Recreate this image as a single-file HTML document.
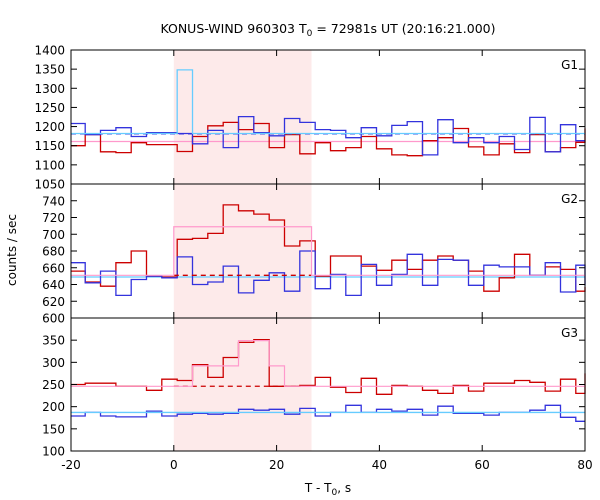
<!DOCTYPE html>
<html><head><meta charset="utf-8">
<style>
html,body{margin:0;padding:0;background:#fff;}
svg{display:block;font-family:"DejaVu Sans","Liberation Sans",sans-serif;}
</style></head>
<body>
<svg id="chart" width="600" height="500" viewBox="0 0 600 500">
<text x="328" y="33" font-size="12.5" text-anchor="middle">KONUS-WIND 960303 T<tspan font-size="9" dy="3">0</tspan><tspan dy="-3"> = 72981s UT (20:16:21.000)</tspan></text>
<text x="16" y="250" font-size="12" text-anchor="middle" transform="rotate(-90 16 250)">counts / sec</text>
<text x="328" y="492" font-size="12" text-anchor="middle">T - T<tspan font-size="9" dy="3">0</tspan><tspan dy="-3">, s</tspan></text>
<g id="plots"></g>
</svg>
<script>
// Shared time axis
const binStart = -17.24;
const binWidth = 2.983;
const xTickLabels = [-20, 0, 20, 40, 60, 80];
const shadeRange = [0, 26.8];

// G1
const g1Red = [1150,1179,1134,1132,1158,1153,1153,1135,1174,1202,1211,1192,1208,1145,1179,1129,1158,1137,1145,1174,1142,1126,1124,1163,1171,1195,1147,1126,1155,1132,1179,1134,1145,1159,1195];
const g1Blue = [1208,1179,1190,1197,1174,1184,1184,1182,1155,1190,1145,1226,1184,1176,1221,1211,1192,1190,1171,1197,1176,1203,1213,1126,1218,1158,1171,1158,1174,1140,1224,1134,1205,1163,1163];
const g1CyanBase = 1182, g1CyanPeak = 1348, g1BlueMean = 1181, g1PinkMean = 1161;
const g1Ticks = [1050,1100,1150,1200,1250,1300,1350,1400];
// G2
const g2Red = [656,643,638,666,680,650,649,694,695,701,735,728,724,717,686,692,650,674,674,662,657,669,658,669,674,669,656,632,648,676,651,661,658,632,637];
const g2Blue = [666,642,656,627,646,650,648,673,640,643,662,630,645,654,632,680,635,652,627,664,639,652,676,639,670,669,639,663,661,661,651,666,631,663,639];
const g2PinkBase = 651, g2PinkPeak = 709, g2RedMean = 651, g2CyanMean = 649;
const g2Ticks = [600,620,640,660,680,700,720,740];
// G3
const g3Red = [250,253,253,246,246,237,262,259,295,266,311,345,351,246,246,248,266,244,232,264,228,248,246,237,230,248,235,253,253,259,255,235,262,230,275];
const g3Blue = [179,187,179,177,177,190,179,183,185,183,185,194,192,194,183,196,179,187,203,187,194,190,194,181,201,185,185,181,187,187,192,203,176,167,167];
const g3Pink = [246,246,246,246,246,246,246,246,292,292,292,349,349,292,246,246,246,246,246,246,246,246,246,246,246,246,246,246,246,246,246,246,246,246,246];
const g3RedMean = 246, g3CyanMean = 187;
const g3Ticks = [100,150,200,250,300,350];

const NS = "http://www.w3.org/2000/svg";
const L = 71, R = 585, xMin = -20, xMax = 80;
const xs = t => L + (t - xMin) / (xMax - xMin) * (R - L);
const root = document.getElementById('plots');
function mk(tag, attrs, parent) {
  const e = document.createElementNS(NS, tag);
  for (const k in attrs) e.setAttribute(k, attrs[k]);
  (parent || root).appendChild(e);
  return e;
}
function edge(i) { return i === 0 ? xMin : Math.min(xMax, binStart + (i - 1) * binWidth); }
function stepPath(vals, ys) {
  let d = '';
  for (let i = 0; i < vals.length; i++) {
    const x0 = xs(edge(i)), x1 = xs(edge(i + 1)), y = ys(vals[i]);
    d += (i === 0 ? 'M' : 'L') + x0.toFixed(1) + ',' + y.toFixed(1) + 'L' + x1.toFixed(1) + ',' + y.toFixed(1);
  }
  return d;
}
function panel(name, top, bot, yMin, yMax, ticks, draw) {
  const ys = v => bot - (v - yMin) / (yMax - yMin) * (bot - top);
  const g = mk('g', {});
  
  
  const sh = mk('rect', {x: xs(shadeRange[0]), y: top, width: xs(shadeRange[1]) - xs(shadeRange[0]), height: bot - top, fill: '#fdeaea'}, g);
  
  
  draw(g, ys);
  const fr = mk('rect', {x: L, y: top, width: R - L, height: bot - top, fill: 'none', stroke: '#000', 'stroke-width': 1}, g);
  
  
  ticks.forEach(v => {
    const y = ys(v);
    mk('line', {x1: L, x2: L + 6, y1: y, y2: y, stroke: '#000'}, g);
    mk('line', {x1: R - 6, x2: R, y1: y, y2: y, stroke: '#000'}, g);
    const t = mk('text', {x: L - 6, y: y + 4.5, 'font-size': 12, 'text-anchor': 'end'}, g);
    t.textContent = v;
    
    
  });
  xTickLabels.forEach(v => {
    const x = xs(v);
    mk('line', {x1: x, x2: x, y1: top, y2: top + 6, stroke: '#000'}, g);
    mk('line', {x1: x, x2: x, y1: bot - 6, y2: bot, stroke: '#000'}, g);
  });
  const lb = mk('text', {x: R - 7, y: top + 19, 'font-size': 12, 'text-anchor': 'end'}, g);
  lb.textContent = name.toUpperCase();
  
  
  return ys;
}
function line(g, d, color, name, dash, w) {
  const p = mk('path', {d: d, fill: 'none', stroke: color, 'stroke-width': w || 1.3}, g);
  if (dash) p.setAttribute('stroke-dasharray', dash);
  
  
  return p;
}
function hline(ys, v, t0, t1) { return 'M' + xs(t0) + ',' + ys(v) + 'L' + xs(t1) + ',' + ys(v); }

panel('g1', 50, 184, 1050, 1400, g1Ticks, (g, ys) => {
  line(g, hline(ys, g1PinkMean, xMin, xMax), '#ff99cc', 'g1-pink-model', null, 1.2);
  line(g, stepPath(g1Red, ys), '#cc0000', 'g1-red-series');
  line(g, stepPath(g1Blue, ys), '#3333dd', 'g1-blue-series');
  line(g, hline(ys, g1BlueMean, xMin, xMax), '#3333dd', 'g1-blue-mean', '5,4');
  const c = 'M' + xs(xMin) + ',' + ys(g1CyanBase) + 'L' + xs(edge(7)) + ',' + ys(g1CyanBase) + 'L' + xs(edge(7)) + ',' + ys(g1CyanPeak) + 'L' + xs(edge(8)) + ',' + ys(g1CyanPeak) + 'L' + xs(edge(8)) + ',' + ys(g1CyanBase) + 'L' + xs(xMax) + ',' + ys(g1CyanBase);
  line(g, c, '#66ccff', 'g1-cyan-model');
});
panel('g2', 184, 318, 600, 760, g2Ticks, (g, ys) => {
  line(g, hline(ys, g2CyanMean, xMin, xMax), '#66ccff', 'g2-cyan-model');
  line(g, stepPath(g2Red, ys), '#cc0000', 'g2-red-series');
  line(g, stepPath(g2Blue, ys), '#3333dd', 'g2-blue-series');
  line(g, hline(ys, g2RedMean, 0, 26.8), '#cc0000', 'g2-red-mean', '5,4');
  const p = 'M' + xs(xMin) + ',' + ys(g2PinkBase) + 'L' + xs(0) + ',' + ys(g2PinkBase) + 'L' + xs(0) + ',' + ys(g2PinkPeak) + 'L' + xs(26.8) + ',' + ys(g2PinkPeak) + 'L' + xs(26.8) + ',' + ys(g2PinkBase) + 'L' + xs(xMax) + ',' + ys(g2PinkBase);
  line(g, p, '#ff99cc', 'g2-pink-model', null, 1.2);
});
panel('g3', 318, 451, 100, 400, g3Ticks, (g, ys) => {
  line(g, stepPath(g3Red, ys), '#cc0000', 'g3-red-series');
  line(g, hline(ys, g3RedMean, 0, 24), '#cc0000', 'g3-red-mean', '5,4');
  line(g, stepPath(g3Pink, ys), '#ff99cc', 'g3-pink-model', null, 1.2);
  line(g, stepPath(g3Blue, ys), '#3333dd', 'g3-blue-series');
  line(g, hline(ys, g3CyanMean, xMin, xMax), '#66ccff', 'g3-cyan-model');
});
// x tick labels under bottom panel
xTickLabels.forEach(v => {
  const t = mk('text', {x: xs(v), y: 469, 'font-size': 12, 'text-anchor': 'middle'});
  t.textContent = v;
  
  
});
</script>
</body></html>
